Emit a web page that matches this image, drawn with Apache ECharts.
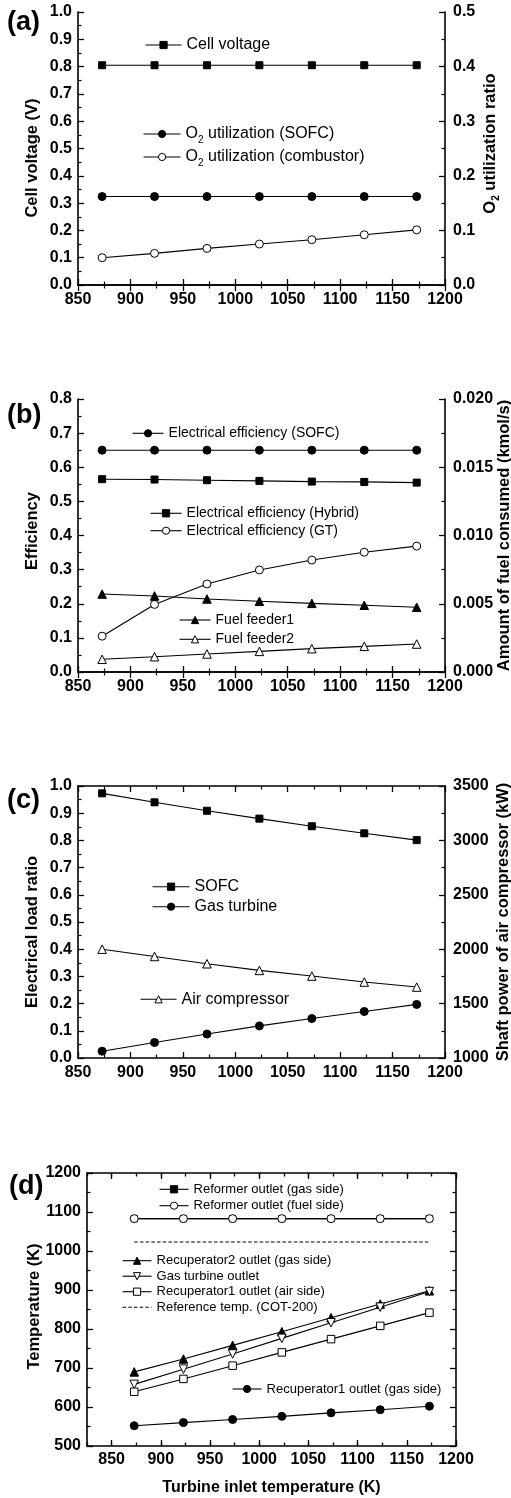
<!DOCTYPE html>
<html>
<head>
<meta charset="utf-8">
<script src="https://cdn.jsdelivr.net/npm/echarts@6/dist/echarts.min.js"></script>
<style>
html,body{margin:0;padding:0;background:#fff;}
#chart{width:511px;height:1498px;}
</style>
</head>
<body>
<div id="chart"></div>
<script>
// ========== data ==========
const turbineInletT = [873, 923, 973, 1023, 1073, 1123, 1173];

// (a)
const cellVoltage   = [0.805, 0.805, 0.805, 0.805, 0.805, 0.805, 0.805];
const o2UtilSofc    = [0.162, 0.162, 0.162, 0.162, 0.162, 0.162, 0.162];
const o2UtilComb    = [0.050, 0.058, 0.067, 0.075, 0.083, 0.092, 0.101];
// (b)
const effSofc       = [0.650, 0.650, 0.650, 0.650, 0.650, 0.650, 0.650];
const effHybrid     = [0.565, 0.564, 0.562, 0.560, 0.558, 0.557, 0.555];
const effGt         = [0.105, 0.198, 0.258, 0.299, 0.328, 0.351, 0.369];
const fuelFeeder1   = [0.00571, 0.00557, 0.00535, 0.00518, 0.00503, 0.00489, 0.00474];
const fuelFeeder2   = [0.00093, 0.00112, 0.00132, 0.00151, 0.00171, 0.00188, 0.00205];
// (c)
const loadSofc      = [0.973, 0.940, 0.909, 0.880, 0.852, 0.826, 0.801];
const loadGt        = [0.025, 0.057, 0.088, 0.118, 0.145, 0.171, 0.197];
const airCompPower  = [2000, 1933, 1866, 1805, 1753, 1698, 1652];
// (d)
const reformerGas   = [1083, 1083, 1083, 1083, 1083, 1083, 1083];
const reformerFuel  = [1083, 1083, 1083, 1083, 1083, 1083, 1083];
const recup2Gas     = [690, 723, 758, 793, 829, 864, 898];
const gtOutlet      = [658, 697, 736, 776, 816, 856, 896];
const recup1Air     = [639, 672, 706, 740, 774, 808, 842];
const refTemp       = [1023, 1023, 1023, 1023, 1023, 1023, 1023];
const recup1Gas     = [552, 560, 568, 576, 585, 593, 602];

// tick label sets
const xTicksD = [850, 900, 950, 1000, 1050, 1100, 1150, 1200];

// ========== helpers ==========
const FONT = 'Arial, "Liberation Sans", sans-serif';
const BLACK = '#000';
const INV_TRI = 'path://M0,0 L10,0 L5,9 Z';

const axisLine = { show: true, lineStyle: { color: BLACK, width: 1.6 } };
const tick = (len) => ({ inside: true, length: len, lineStyle: { color: BLACK, width: 1.3 } });
const minor = { show: true, splitNumber: 2, length: 3.5, lineStyle: { color: BLACK, width: 1.2 } };
const lbl = (margin, fmt) => ({ margin, color: BLACK, fontSize: 16, fontWeight: 'bold', fontFamily: FONT, formatter: fmt });
const nameStyle = (pad, size) => ({ color: BLACK, fontSize: size || 16.5, fontWeight: 'bold', fontFamily: FONT, padding: pad || 0 });

function xPair(grid, min, max, interval) {
    const base = { type: 'value', gridIndex: grid, min, max, interval, axisLine, axisTick: tick(6),
        minorTick: minor, splitLine: { show: false }, minorSplitLine: { show: false } };
    return [
        Object.assign({}, base, { position: 'bottom', axisLabel: lbl(7, v => v) }),
        Object.assign({}, base, { position: 'top', axisLabel: { show: false } })
    ];
}

function yAxis(grid, side, min, max, interval, fmt, name, gap, pad, rich) {
    const a = { type: 'value', gridIndex: grid, position: side, min, max, interval, axisLine,
        axisTick: tick(6), minorTick: minor, splitLine: { show: false }, minorSplitLine: { show: false },
        axisLabel: fmt ? lbl(side === 'left' ? 6 : 8, fmt) : { show: false } };
    if (name) {
        a.name = name;
        a.nameLocation = 'middle';
        a.nameGap = gap;
        a.nameMoveOverlap = false;
        a.nameTextStyle = nameStyle(pad);
        if (rich) a.nameTextStyle.rich = rich;
    }
    return a;
}

function series(name, vals, xi, yi, symbol, fill, size, extra) {
    return Object.assign({
        type: 'line', name, xAxisIndex: xi, yAxisIndex: yi,
        data: turbineInletT.map((t, i) => [t, vals[i]]),
        symbol, symbolSize: size, showSymbol: true,
        lineStyle: { color: BLACK, width: 1.1 },
        itemStyle: { color: fill, borderColor: BLACK, borderWidth: 1 },
        emphasis: { disabled: true }
    }, extra || {});
}

function legend(names, left, top, itemWidth, fontSize, itemGap, extra) {
    return Object.assign({
        data: names, left, top, orient: 'vertical', padding: 0,
        itemWidth, itemHeight: 9, itemGap: itemGap || 0, selectedMode: false,
        itemStyle: { borderWidth: 1 }, lineStyle: { width: 1.1 },
        textStyle: { color: BLACK, fontSize, fontFamily: FONT }
    }, extra || {});
}

const sub2 = (fs, bold) => ({
    n: { fontSize: fs, fontWeight: bold ? 'bold' : 'normal', color: BLACK, fontFamily: FONT, verticalAlign: 'middle' },
    s: { fontSize: 10, fontWeight: bold ? 'bold' : 'normal', color: BLACK, fontFamily: FONT, verticalAlign: 'middle', padding: [12, 0, 0, 0] }
});

// ========== axes ==========
const xAxes = [].concat(
    xPair(0, 850, 1200, 50),
    xPair(1, 850, 1200, 50),
    xPair(2, 850, 1200, 50)
);
// (d): 825..1200, short ticks every 25, long ticks + labels on multiples of 50
const dBase = { type: 'value', gridIndex: 3, min: 825, max: 1200, interval: 25,
    splitLine: { show: false } };
xAxes.push(Object.assign({}, dBase, { position: 'bottom', axisLine, axisTick: tick(3.5),
    axisLabel: lbl(6, v => (v % 50 === 0 ? v : '')),
    name: 'Turbine inlet temperature (K)', nameLocation: 'middle', nameGap: 34,
    nameMoveOverlap: false, nameTextStyle: nameStyle(0, 16) }));
xAxes.push(Object.assign({}, dBase, { position: 'top', axisLine, axisTick: tick(3.5), axisLabel: { show: false } }));
xAxes.push(Object.assign({}, dBase, { position: 'bottom', axisLine: { show: false },
    axisTick: Object.assign(tick(6), { customValues: xTicksD }), axisLabel: { show: false } }));
xAxes.push(Object.assign({}, dBase, { position: 'top', axisLine: { show: false },
    axisTick: Object.assign(tick(6), { customValues: xTicksD }), axisLabel: { show: false } }));

const f1 = v => v.toFixed(1), f3 = v => v.toFixed(3), f0 = v => String(v);
const yAxes = [
    yAxis(0, 'left', 0, 1.0, 0.1, f1, 'Cell voltage (V)', 37, [0, 19, 0, 0]),
    yAxis(0, 'right', 0, 0.5, 0.1, f1, '{n|O}{s|2}{n| utilization ratio}', 34, [0, 0, 0, 10], sub2(16.5, true)),
    yAxis(1, 'left', 0, 0.8, 0.1, f1, 'Efficiency', 37, [0, 0, 0, 9]),
    yAxis(1, 'right', 0, 0.02, 0.005, f3, 'Amount of fuel consumed (kmol/s)', 51),
    yAxis(2, 'left', 0, 1.0, 0.1, f1, 'Electrical load ratio', 37, [0, 20, 0, 0]),
    yAxis(2, 'right', 1000, 3500, 500, f0, 'Shaft power of air compressor (kW)', 50),
    yAxis(3, 'left', 500, 1200, 100, f0, 'Temperature (K)', 44, [0, 0, 0, 6]),
    yAxis(3, 'right', 500, 1200, 100, null)
];

// ========== series ==========
const seriesList = [
    // (a)
    series('Cell voltage', cellVoltage, 0, 0, 'rect', BLACK, 7),
    series('O2 utilization (SOFC)', o2UtilSofc, 0, 1, 'circle', BLACK, 8),
    series('O2 utilization (combustor)', o2UtilComb, 0, 1, 'circle', '#fff', 8),
    // (b)
    series('Electrical efficiency (SOFC)', effSofc, 2, 2, 'circle', BLACK, 8),
    series('Electrical efficiency (Hybrid)', effHybrid, 2, 2, 'rect', BLACK, 7),
    series('Electrical efficiency (GT)', effGt, 2, 2, 'circle', '#fff', 8),
    series('Fuel feeder1', fuelFeeder1, 2, 3, 'triangle', BLACK, 8.5),
    series('Fuel feeder2', fuelFeeder2, 2, 3, 'triangle', '#fff', 8.5),
    // (c)
    series('SOFC', loadSofc, 4, 4, 'rect', BLACK, 7),
    series('Gas turbine', loadGt, 4, 4, 'circle', BLACK, 8),
    series('Air compressor', airCompPower, 4, 5, 'triangle', '#fff', 8.5),
    // (d)
    series('Reformer outlet (gas side)', reformerGas, 6, 6, 'rect', BLACK, 6),
    series('Reformer outlet (fuel side)', reformerFuel, 6, 6, 'circle', '#fff', 8),
    series('Recuperator2 outlet (gas side)', recup2Gas, 6, 6, 'triangle', BLACK, 8.5),
    series('Gas turbine outlet', gtOutlet, 6, 6, INV_TRI, '#fff', 8.5),
    series('Recuperator1 outlet (air side)', recup1Air, 6, 6, 'rect', '#fff', 7.5),
    series('Reference temp. (COT-200)', refTemp, 6, 6, 'none', 'rgba(0,0,0,0)', 0, {
        lineStyle: { color: BLACK, width: 1.1, type: [3.5, 2.2] },
        itemStyle: { color: 'rgba(0,0,0,0)', borderColor: 'rgba(0,0,0,0)', borderWidth: 0 }
    }),
    series('Recuperator1 outlet (gas side)', recup1Gas, 6, 6, 'circle', BLACK, 8)
];

// ========== legends ==========
const o2Fmt = n => '{n|O}{s|2}{n|' + n.slice(2) + '}';
const legends = [
    legend(['Cell voltage'], 145, 37, 36, 16),
    legend(['O2 utilization (SOFC)', 'O2 utilization (combustor)'], 143, 126, 37, 16, 4,
        { formatter: o2Fmt, textStyle: { color: BLACK, fontSize: 16, fontFamily: FONT, rich: sub2(16, false) } }),
    legend(['Electrical efficiency (SOFC)'], 132, 426.3, 31, 14),
    legend(['Electrical efficiency (Hybrid)', 'Electrical efficiency (GT)'], 150, 506.3, 31, 14, 3.4),
    legend(['Fuel feeder1', 'Fuel feeder2'], 179, 613, 31, 14, 5.3),
    legend(['SOFC', 'Gas turbine'], 152, 878.7, 37, 16, 4),
    legend(['Air compressor'], 140, 991.3, 36, 16),
    legend(['Reformer outlet (gas side)', 'Reformer outlet (fuel side)'], 159, 1182.8, 29, 13, 3.4),
    legend(['Recuperator2 outlet (gas side)', 'Gas turbine outlet', 'Recuperator1 outlet (air side)',
        'Reference temp. (COT-200)'], 122, 1254.2, 29, 13, 2.5),
    legend(['Recuperator1 outlet (gas side)'], 232, 1382.5, 29, 13)
];

// panel labels
const panelLabels = [['(a)', 7, 9], ['(b)', 7, 401.7], ['(c)', 7, 786.7], ['(d)', 9, 1173]];

const chart = echarts.init(document.getElementById('chart'));
chart.setOption({
    animation: false,
    backgroundColor: '#fff',
    textStyle: { fontFamily: FONT },
    title: panelLabels.map(([t, l, tp]) => ({
        text: t, left: l, top: tp, padding: 0,
        textStyle: { fontSize: 27, fontWeight: 'bold', color: BLACK, fontFamily: FONT }
    })),
    grid: [
        { left: 78, top: 12, width: 367, height: 273, outerBoundsMode: 'none', containLabel: false },
        { left: 78, top: 399, width: 367, height: 273, outerBoundsMode: 'none', containLabel: false },
        { left: 78, top: 786, width: 367, height: 272, outerBoundsMode: 'none', containLabel: false },
        { left: 87, top: 1173, width: 369, height: 273, outerBoundsMode: 'none', containLabel: false }
    ],
    xAxis: xAxes,
    yAxis: yAxes,
    legend: legends,
    series: seriesList
});
</script>
</body>
</html>
